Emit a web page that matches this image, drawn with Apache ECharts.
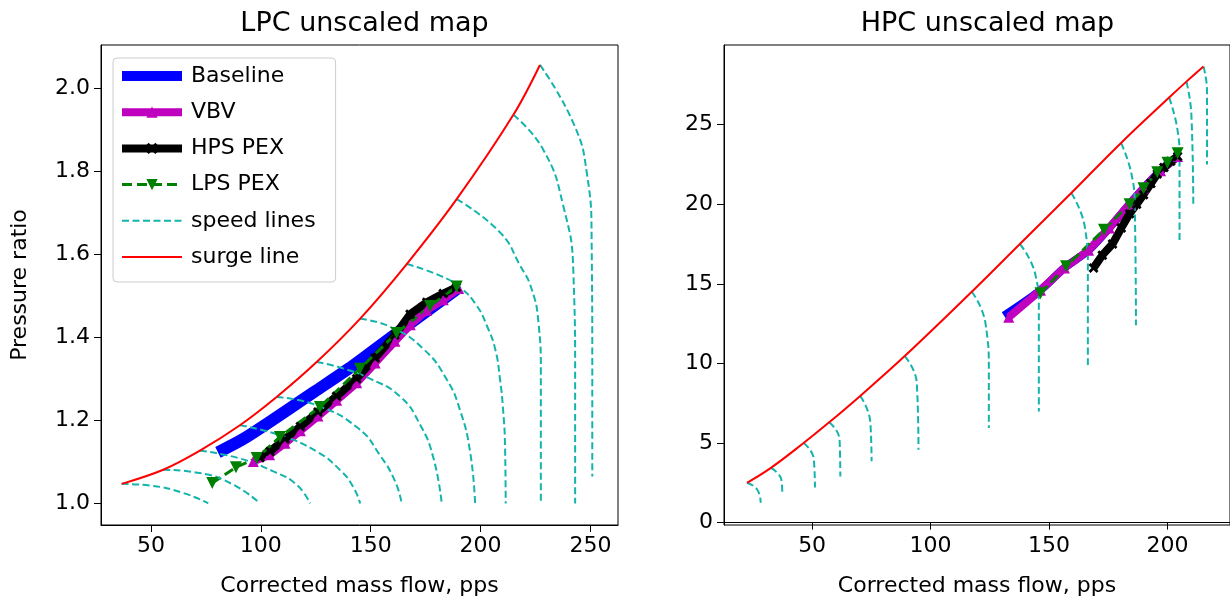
<!DOCTYPE html>
<html><head><meta charset="utf-8">
<script src="https://cdn.jsdelivr.net/npm/echarts@6/dist/echarts.min.js"></script>
<style>html,body{margin:0;padding:0;background:#fff}#c{width:1230px;height:602px}</style>
</head><body><div id="c"></div>
<script>
// ---------------- LPC data ----------------
const LPC_X_TICKS = [50, 100, 150, 200, 250];
const LPC_Y_TICKS = [1.0, 1.2, 1.4, 1.6, 1.8, 2.0];
const LPC_SURGE_X = [36.7, 55.6, 72.3, 90.5, 107.2, 125.4, 145.1, 166.4, 189.1, 214.9, 227.0];
const LPC_SURGE_Y = [1.047, 1.081, 1.127, 1.188, 1.256, 1.340, 1.444, 1.576, 1.732, 1.935, 2.055];
const LPC_BASELINE_X = [80.5, 93.6, 124.2, 142.1, 157.3, 189.0];
const LPC_BASELINE_Y = [1.123, 1.160, 1.268, 1.332, 1.392, 1.515];
const LPC_VBV_X = [96.6, 104, 111, 118, 126, 134.5, 143.6, 152, 161, 168, 175.5, 183, 190];
const LPC_VBV_Y = [1.101, 1.117, 1.145, 1.175, 1.21, 1.248, 1.29, 1.338, 1.39, 1.43, 1.465, 1.49, 1.517];
const LPC_HPS_X = [99.6, 104.2, 111, 118, 126, 134.5, 143.6, 152, 161, 167.9, 175.5, 183, 189];
const LPC_HPS_Y = [1.11, 1.125, 1.155, 1.185, 1.22, 1.258, 1.30, 1.35, 1.405, 1.455, 1.484, 1.505, 1.52];
const LPC_LPS_X = [77.9, 88.7, 98.1, 108.7, 126.9, 145.1, 161.8, 177.0, 189.1];
const LPC_LPS_Y = [1.049, 1.087, 1.109, 1.16, 1.232, 1.324, 1.41, 1.475, 1.522];
const LPC_SPEED_LINES = [
  [[36.7, 1.047], [49.5, 1.043], [64.7, 1.025], [76.1, 1.0]],
  [[55.6, 1.081], [72.3, 1.073], [87.5, 1.045], [99.6, 1.0]],
  [[72.3, 1.127], [90.5, 1.108], [105.7, 1.077], [116.3, 1.045], [122.4, 1.0]],
  [[90.5, 1.188], [108.7, 1.164], [125.4, 1.125], [136.1, 1.08], [142.0, 1.04], [145.2, 1.0]],
  [[107.2, 1.256], [125.4, 1.236], [144.5, 1.18], [154.2, 1.116], [161.1, 1.053], [164.1, 1.0]],
  [[125.4, 1.340], [136.1, 1.327], [149.7, 1.30], [163.4, 1.257], [172.4, 1.19], [178.5, 1.11], [182.3, 1.0]],
  [[145.1, 1.444], [158.8, 1.425], [173.9, 1.372], [184.6, 1.298], [190.6, 1.225], [195.2, 1.125], [197.5, 1.0]],
  [[166.4, 1.576], [181.5, 1.548], [190.6, 1.52], [198.2, 1.476], [202.8, 1.428], [206.6, 1.372], [208.8, 1.30], [210.3, 1.22], [211.1, 1.14], [211.4, 1.0]],
  [[189.1, 1.732], [208.8, 1.652], [218.0, 1.572], [223.2, 1.516], [226.3, 1.436], [227.4, 1.316], [227.4, 1.0]],
  [[214.9, 1.935], [228.5, 1.851], [237.6, 1.716], [242.2, 1.556], [243.0, 1.30], [243.0, 1.0]],
  [[227.0, 2.055], [242.2, 1.915], [248.3, 1.796], [250.5, 1.636], [250.8, 1.30], [250.8, 1.065]]
];

// ---------------- HPC data ----------------
const HPC_X_TICKS = [50, 100, 150, 200];
const HPC_Y_TICKS = [0, 5, 10, 15, 20, 25];
const HPC_SURGE_X = [22.5, 32.6, 46.4, 57.2, 70.3, 89.1, 117.4, 137.7, 159.4, 180.4, 200.7, 208.0, 215.2];
const HPC_SURGE_Y = [2.5, 3.44, 5.0, 6.3, 7.96, 10.46, 14.5, 17.5, 20.7, 23.85, 26.7, 27.7, 28.65];
const HPC_BASELINE_X = [131.0, 146.4, 156.5, 166.7, 175.4, 184.0, 189.9, 197.1, 204.3];
const HPC_BASELINE_Y = [13.0, 14.6, 16.0, 17.1, 18.5, 20.0, 21.0, 22.1, 23.0];
const HPC_VBV_X = [133.0, 146.4, 156.5, 166.7, 175.4, 184.0, 189.9, 197.1, 204.3];
const HPC_VBV_Y = [12.9, 14.6, 16.0, 17.1, 18.5, 20.0, 21.0, 22.1, 23.0];
const HPC_HPS_X = [168.8, 172.5, 176.8, 180.5, 184.0, 187.0, 189.9, 193.0, 195.7, 198.5, 201.4, 204.3];
const HPC_HPS_Y = [16.0, 16.8, 17.5, 18.5, 19.4, 20.0, 20.6, 21.3, 21.9, 22.3, 22.7, 23.0];
const HPC_LPS_X = [146.4, 157.2, 173.2, 184.0, 189.9, 195.7, 200.0, 204.3];
const HPC_LPS_Y = [14.4, 16.1, 18.4, 20.0, 21.0, 22.0, 22.6, 23.2];
const HPC_SPEED_LINES = [
  [[22.5, 2.5], [26.8, 2.08], [28.3, 1.25]],
  [[32.6, 3.44], [37.0, 2.7], [37.4, 1.9]],
  [[46.4, 5.0], [50.7, 4.0], [51.2, 2.2]],
  [[57.2, 6.3], [61.6, 5.2], [61.9, 2.9]],
  [[70.3, 7.96], [74.6, 6.25], [75.1, 3.85]],
  [[89.1, 10.46], [94.2, 8.75], [94.9, 4.58]],
  [[117.4, 14.5], [123.2, 12.5], [124.6, 9.4], [124.6, 5.94]],
  [[137.7, 17.5], [144.2, 15.6], [145.7, 13.5], [145.7, 6.98]],
  [[159.4, 20.7], [165.2, 18.5], [166.4, 16.0], [166.4, 9.9]],
  [[180.4, 23.85], [184.8, 21.9], [186.2, 19.8], [186.7, 12.4]],
  [[200.7, 26.7], [204.3, 24.6], [205.1, 22.9], [205.1, 17.7]],
  [[208.0, 27.7], [210.1, 25.6], [210.9, 20.0]],
  [[215.2, 28.65], [216.7, 27.1], [216.7, 22.5]]
];

// ---------------- styles ----------------
const FONT = 'DejaVu Sans';
const C_BLUE = '#0000FF', C_MAG = '#BF00BF', C_BLACK = '#000000', C_GREEN = '#008000', C_CYAN = '#14B4AC', C_RED = '#FF0000';
const XSYM = 'path://M2,0 L5,3 L8,0 L10,2 L7,5 L10,8 L8,10 L5,7 L2,10 L0,8 L3,5 L0,2 Z';
const zip = (xs, ys) => xs.map((x, i) => [x, ys[i]]);

function opSeries(gi, set, baseW) {
  return [
    { name: 'Baseline', type: 'line', xAxisIndex: gi, yAxisIndex: gi, data: zip(set.bx, set.by), smooth: 0.3,
      showSymbol: false, symbol: 'circle', symbolSize: 4, lineStyle: { color: C_BLUE, width: baseW, cap: 'butt' }, itemStyle: { color: C_BLUE }, silent: true },
    { name: 'VBV', type: 'line', xAxisIndex: gi, yAxisIndex: gi, data: zip(set.vx, set.vy),
      symbol: 'triangle', symbolSize: 11, lineStyle: { color: C_MAG, width: 8 }, itemStyle: { color: C_MAG }, silent: true },
    { name: 'HPS PEX', type: 'line', xAxisIndex: gi, yAxisIndex: gi, data: zip(set.hx, set.hy),
      symbol: XSYM, symbolSize: 10, lineStyle: { color: C_BLACK, width: 8 }, itemStyle: { color: C_BLACK }, silent: true },
    { name: 'LPS PEX', type: 'line', xAxisIndex: gi, yAxisIndex: gi, data: zip(set.lx, set.ly),
      symbol: 'triangle', symbolRotate: 180, symbolSize: 12, lineStyle: { color: C_GREEN, width: 3, type: [10, 5] }, itemStyle: { color: C_GREEN }, silent: true }
  ];
}

const series = [];
series.push(...opSeries(0, { bx: LPC_BASELINE_X, by: LPC_BASELINE_Y, vx: LPC_VBV_X, vy: LPC_VBV_Y, hx: LPC_HPS_X, hy: LPC_HPS_Y, lx: LPC_LPS_X, ly: LPC_LPS_Y }, 12));
series.push(...opSeries(1, { bx: HPC_BASELINE_X, by: HPC_BASELINE_Y, vx: HPC_VBV_X, vy: HPC_VBV_Y, hx: HPC_HPS_X, hy: HPC_HPS_Y, lx: HPC_LPS_X, ly: HPC_LPS_Y }, 8));
[[LPC_SPEED_LINES, 0], [HPC_SPEED_LINES, 1]].forEach(([lines, gi]) => {
  lines.forEach(pts => series.push({ name: 'speed lines', type: 'line', xAxisIndex: gi, yAxisIndex: gi, data: pts,
    smooth: 0.5, showSymbol: false, symbol: 'none', lineStyle: { color: C_CYAN, width: 2, type: [7, 3.5] }, itemStyle: { color: C_CYAN }, silent: true }));
});
series.push({ name: 'surge line', type: 'line', xAxisIndex: 0, yAxisIndex: 0, data: zip(LPC_SURGE_X, LPC_SURGE_Y), smooth: 0.35,
  showSymbol: false, symbol: 'none', lineStyle: { color: C_RED, width: 2 }, itemStyle: { color: C_RED }, silent: true });
series.push({ name: 'surge line', type: 'line', xAxisIndex: 1, yAxisIndex: 1, data: zip(HPC_SURGE_X, HPC_SURGE_Y), smooth: 0.4,
  showSymbol: false, symbol: 'none', lineStyle: { color: C_RED, width: 2 }, itemStyle: { color: C_RED }, silent: true });

const TICK_FS = 22, TITLE_FS = 27;
function xAxis(gi, min, max, ticks, name) {
  return { type: 'value', gridIndex: gi, min, max, name, nameLocation: 'middle', nameGap: 50,
    nameTextStyle: { fontFamily: FONT, fontSize: TICK_FS, color: '#000' },
    axisLine: { show: true, lineStyle: { color: '#000', width: 1 } },
    axisTick: { show: true, inside: false, length: 7, lineStyle: { color: '#000' }, customValues: ticks },
    axisLabel: { fontFamily: FONT, fontSize: TICK_FS, color: '#000', margin: 10, customValues: ticks, formatter: v => String(v) },
    splitLine: { show: false } };
}
function yAxis(gi, min, max, ticks, name, fmt) {
  return { type: 'value', gridIndex: gi, min, max, name, nameLocation: 'middle', nameGap: 70,
    nameTextStyle: { fontFamily: FONT, fontSize: TICK_FS, color: '#000' },
    axisLine: { show: true, lineStyle: { color: '#000', width: 1 } },
    axisTick: { show: true, inside: false, length: 7, lineStyle: { color: '#000' }, customValues: ticks },
    axisLabel: { fontFamily: FONT, fontSize: TICK_FS, color: '#000', margin: 11, customValues: ticks, formatter: fmt },
    splitLine: { show: false } };
}

const hidden = { opacity: 0 };
const option = {
  animation: false,
  backgroundColor: '#fff',
  title: [
    { text: 'LPC unscaled map', left: 359.5, top: 5, textAlign: 'center', textStyle: { fontFamily: FONT, fontSize: TITLE_FS, fontWeight: 'normal', color: '#000' } },
    { text: 'HPC unscaled map', left: 982.5, top: 5, textAlign: 'center', textStyle: { fontFamily: FONT, fontSize: TITLE_FS, fontWeight: 'normal', color: '#000' } }
  ],
  legend: {
    left: 113, top: 58, orient: 'vertical', selectedMode: false,
    padding: [6, 20, 13, 4], itemGap: 12.2, itemWidth: 60, itemHeight: 14,
    backgroundColor: 'rgba(255,255,255,0.85)', borderColor: '#cccccc', borderWidth: 1, borderRadius: 4,
    textStyle: { fontFamily: FONT, fontSize: 22, color: '#000', lineHeight: 24, padding: [0, 0, 0, 4] },
    data: [
      { name: 'Baseline', lineStyle: { width: 10 }, itemStyle: hidden },
      { name: 'VBV', lineStyle: { width: 8 } },
      { name: 'HPS PEX', lineStyle: { width: 8 } },
      { name: 'LPS PEX', lineStyle: { width: 3 } },
      { name: 'speed lines', lineStyle: { width: 2 }, itemStyle: hidden },
      { name: 'surge line', lineStyle: { width: 2 }, itemStyle: hidden }
    ]
  },
  grid: [
    { left: 101, top: 45, width: 517, height: 482, show: true, borderColor: '#000', borderWidth: 1, backgroundColor: 'transparent' },
    { left: 724, top: 45, width: 517, height: 482, show: true, borderColor: '#000', borderWidth: 1, backgroundColor: 'transparent' }
  ],
  xAxis: [
    xAxis(0, 27.3, 262.5, LPC_X_TICKS, 'Corrected mass flow, pps'),
    xAxis(1, 12.8, 226.4, HPC_X_TICKS, 'Corrected mass flow, pps')
  ],
  yAxis: [
    yAxis(0, 0.948, 2.103, LPC_Y_TICKS, 'Pressure ratio', v => v.toFixed(1)),
    yAxis(1, -0.15, 30.0, HPC_Y_TICKS, '', v => String(Math.round(v)))
  ],
  series
};
const chart = echarts.init(document.getElementById('c'), null, { renderer: 'canvas' });
chart.setOption(option);
</script></body></html>
